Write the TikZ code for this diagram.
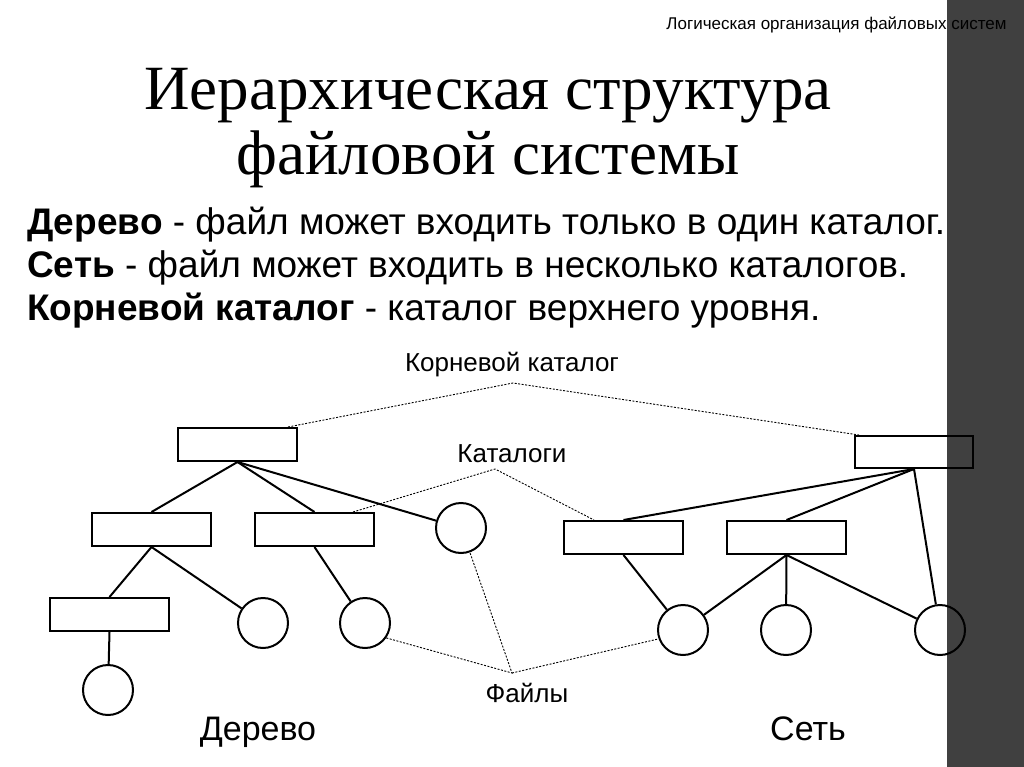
\documentclass[tikz,border=0pt]{standalone}
\usepackage{fontspec}
\setmainfont{Liberation Sans}
\newfontfamily\serifT{Liberation Serif}
\begin{document}
\begin{tikzpicture}[x=1pt,y=-1pt,
  box/.style={draw,line width=2pt,minimum width=119pt,minimum height=33pt,inner sep=0pt},
  leaf/.style={draw,circle,line width=2pt,minimum size=50pt,inner sep=0pt},
  edge/.style={line width=2pt},
  dot/.style={dashed,dash pattern=on 2pt off 1.5pt,line width=0.9pt},
  lbl/.style={font=\fontsize{26}{30}\selectfont}]
\useasboundingbox (0,0) rectangle (1024,767);
\fill[white] (0,0) rectangle (1024,767);
\fill[black!75] (947,0) rectangle (1024,767);
\node[anchor=east,font=\fontsize{17}{20}\selectfont] (hdr) at (1010,25) {Логическая организация файловых систем};
\node[align=center,font=\serifT\fontsize{63}{65}\selectfont] (title) at (488,128) {Иерархическая структура\\файловой системы};
\node[anchor=west,align=left,font=\fontsize{37}{43}\selectfont,inner sep=0pt] (body) at (27,268)
 {\textbf{Дерево} - файл может входить только в один каталог.\\
  \textbf{Сеть} - файл может входить в несколько каталогов.\\
  \textbf{Корневой каталог} - каталог верхнего уровня.};
% tree
\node[box] (r1) at (237.5,444.5) {};
\node[box] (r2) at (151.5,529.5) {};
\node[box] (r3) at (314.5,529.5) {};
\node[box] (r4) at (109.5,614.5) {};
\node[leaf] (c1) at (461,528) {};
\node[leaf] (c2) at (263,623) {};
\node[leaf] (c3) at (365,623) {};
\node[leaf] (c4) at (108,690) {};
% net
\node[box,minimum width=118pt,minimum height=32pt] (r5) at (914,452) {};
\node[box] (r6) at (623.5,537.5) {};
\node[box] (r7) at (786.5,537.5) {};
\node[leaf] (c5) at (683,630) {};
\node[leaf] (c6) at (786,630) {};
\node[leaf] (c7) at (940,630) {};
\draw[edge] (r1.south) -- (r2.north);
\draw[edge] (r1.south) -- (r3.north);
\draw[edge] (r1.south) -- (c1);
\draw[edge] (r2.south) -- (r4.north);
\draw[edge] (r2.south) -- (c2);
\draw[edge] (r3.south) -- (c3);
\draw[edge] (r4.south) -- (c4);
\draw[edge] (r5.south) -- (r6.north);
\draw[edge] (r5.south) -- (r7.north);
\draw[edge] (r5.south) -- (c7);
\draw[edge] (r6.south) -- (c5);
\draw[edge] (r7.south) -- (c5);
\draw[edge] (r7.south) -- (c6);
\draw[edge] (r7.south) -- (c7);
% labels
\node[lbl] (lroot) at (512,365) {Корневой каталог};
\node[lbl] (lcat) at (512,454) {Каталоги};
\node[lbl] (lfile) at (527,693) {Файлы};
\coordinate (a1) at (513,383);
\coordinate (a2) at (495,469);
\coordinate (a3) at (512,673);
\draw[dot] ([xshift=-10pt]r1.north east) -- (a1) -- ([xshift=5pt]r5.north west);
\draw[dot] ([xshift=-22pt]r3.north east) -- (a2) -- ([xshift=31pt]r6.north west);
\draw[dot] (c3.-35) -- (a3) -- (c1.-70);
\draw[dot] (a3) -- (c5.200);
\node[anchor=base,font=\fontsize{34}{40}\selectfont] (ltree) at (258,740) {Дерево};
\node[anchor=base,font=\fontsize{34}{40}\selectfont] (lnet) at (808,740) {Сеть};
\end{tikzpicture}
\end{document}
